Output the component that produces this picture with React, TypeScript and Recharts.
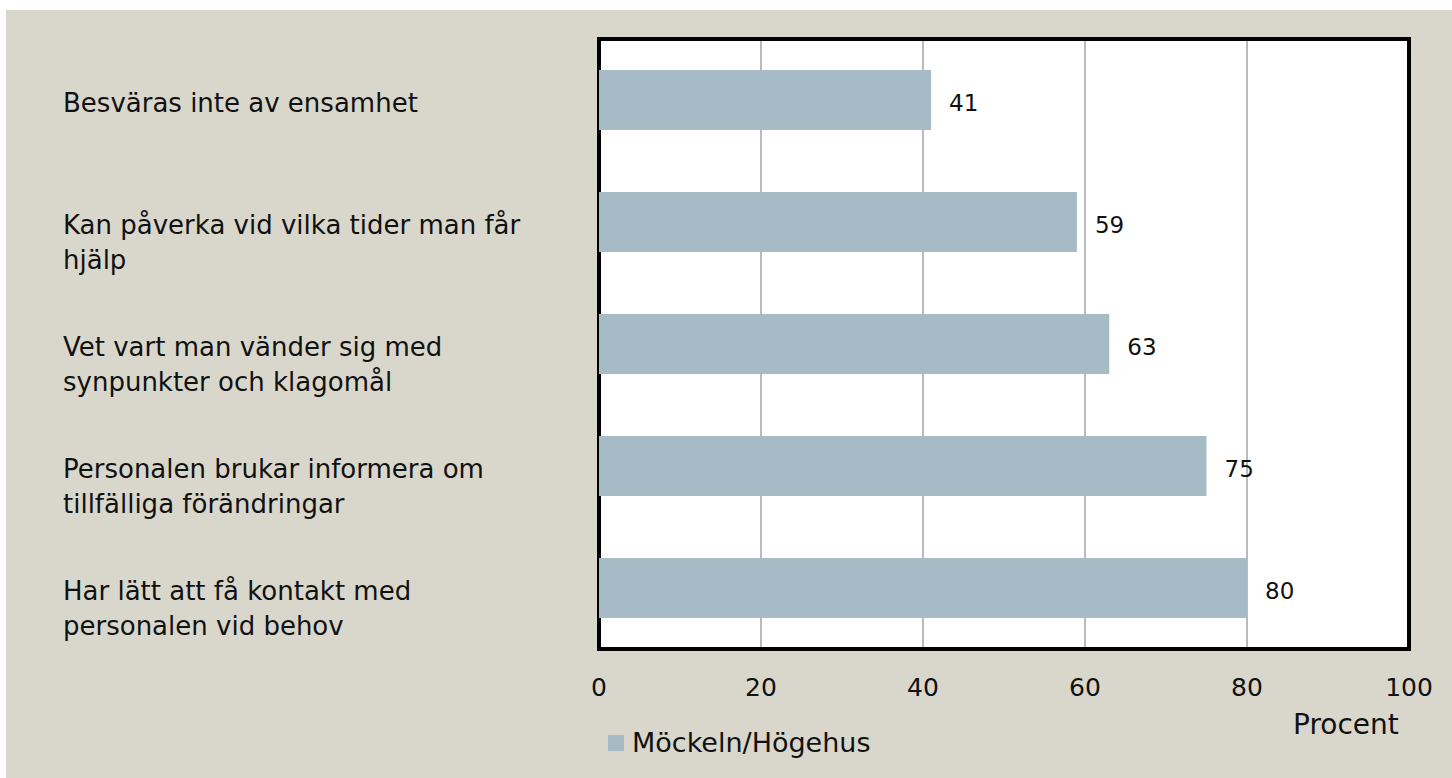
import React from "react";
import {
  BarChart,
  Bar,
  XAxis,
  YAxis,
  CartesianGrid,
  LabelList,
  ReferenceArea,
} from "recharts";

const categories = [
  "Besväras inte av ensamhet",
  "Kan påverka vid vilka tider man får hjälp",
  "Vet vart man vänder sig med synpunkter och klagomål",
  "Personalen brukar informera om tillfälliga förändringar",
  "Har lätt att få kontakt med personalen vid behov",
];
const values = [41, 59, 63, 75, 80];
const xTicks = [0, 20, 40, 60, 80, 100];
const seriesName = "Möckeln/Högehus";
const axisTitle = "Procent";

const data = categories.map((c, i) => ({ name: c, value: values[i] }));

const FONT = "'DejaVu Sans', sans-serif";
const BG = "#D9D7CB";
const BAR = "#A7BBC7";

function wrap(text: string, max: number) {
  const lines: string[] = [];
  let cur = "";
  for (const w of text.split(" ")) {
    const next = cur ? cur + " " + w : w;
    if (next.length > max && cur) {
      lines.push(cur);
      cur = w;
    } else cur = next;
  }
  if (cur) lines.push(cur);
  return lines;
}

const CategoryTick = (props: any) => {
  const { y, payload } = props;
  const lines = wrap(payload.value, 35);
  return (
    <text x={57} y={y} fontFamily={FONT} fontSize={26} fill="#111">
      {lines.map((l, i) => (
        <tspan key={i} x={57} dy={i === 0 ? 12 : 35}>
          {l}
        </tspan>
      ))}
    </text>
  );
};

export default function App() {
  return (
    <div
      style={{
        position: "absolute",
        left: 6,
        top: 10,
        width: 1446,
        height: 768,
        background: BG,
      }}
    >
      <BarChart
        width={1446}
        height={768}
        data={data}
        layout="vertical"
        margin={{ top: 29, right: 43, bottom: 89, left: 0 }}
      >
        <CartesianGrid
          horizontal={false}
          stroke="#777777"
          fill="#ffffff"
          fillOpacity={1}
        />
        <XAxis
          type="number"
          domain={[0, 100]}
          ticks={xTicks}
          axisLine={false}
          tickLine={false}
          tickSize={0}
          tickMargin={29}
          height={40}
          tick={{ fontFamily: FONT, fontSize: 25, fill: "#111" }}
        />
        <YAxis
          type="category"
          dataKey="name"
          width={593}
          axisLine={false}
          tickLine={false}
          tick={<CategoryTick />}
        />
        <Bar
          dataKey="value"
          fill={BAR}
          barSize={60}
          isAnimationActive={false}
        >
          <LabelList
            dataKey="value"
            position="right"
            offset={18}
            dy={3}
            style={{ fontFamily: FONT, fontSize: 23, fill: "#111" }}
          />
        </Bar>
        <ReferenceArea
          x1={0}
          x2={100}
          fill="none"
          stroke="#000"
          strokeWidth={4}
          ifOverflow="visible"
        />
      </BarChart>
      <div
        style={{
          position: "absolute",
          left: 1287,
          top: 698,
          fontFamily: FONT,
          fontSize: 28,
          color: "#111",
          whiteSpace: "nowrap",
        }}
      >
        {axisTitle}
      </div>
      <div
        style={{
          position: "absolute",
          left: 602,
          top: 717,
          display: "flex",
          alignItems: "center",
          fontFamily: FONT,
          fontSize: 27,
          color: "#111",
          whiteSpace: "nowrap",
        }}
      >
        <span
          style={{
            display: "inline-block",
            width: 16,
            height: 16,
            background: BAR,
            marginRight: 8,
          }}
        />
        {seriesName}
      </div>
    </div>
  );
}
